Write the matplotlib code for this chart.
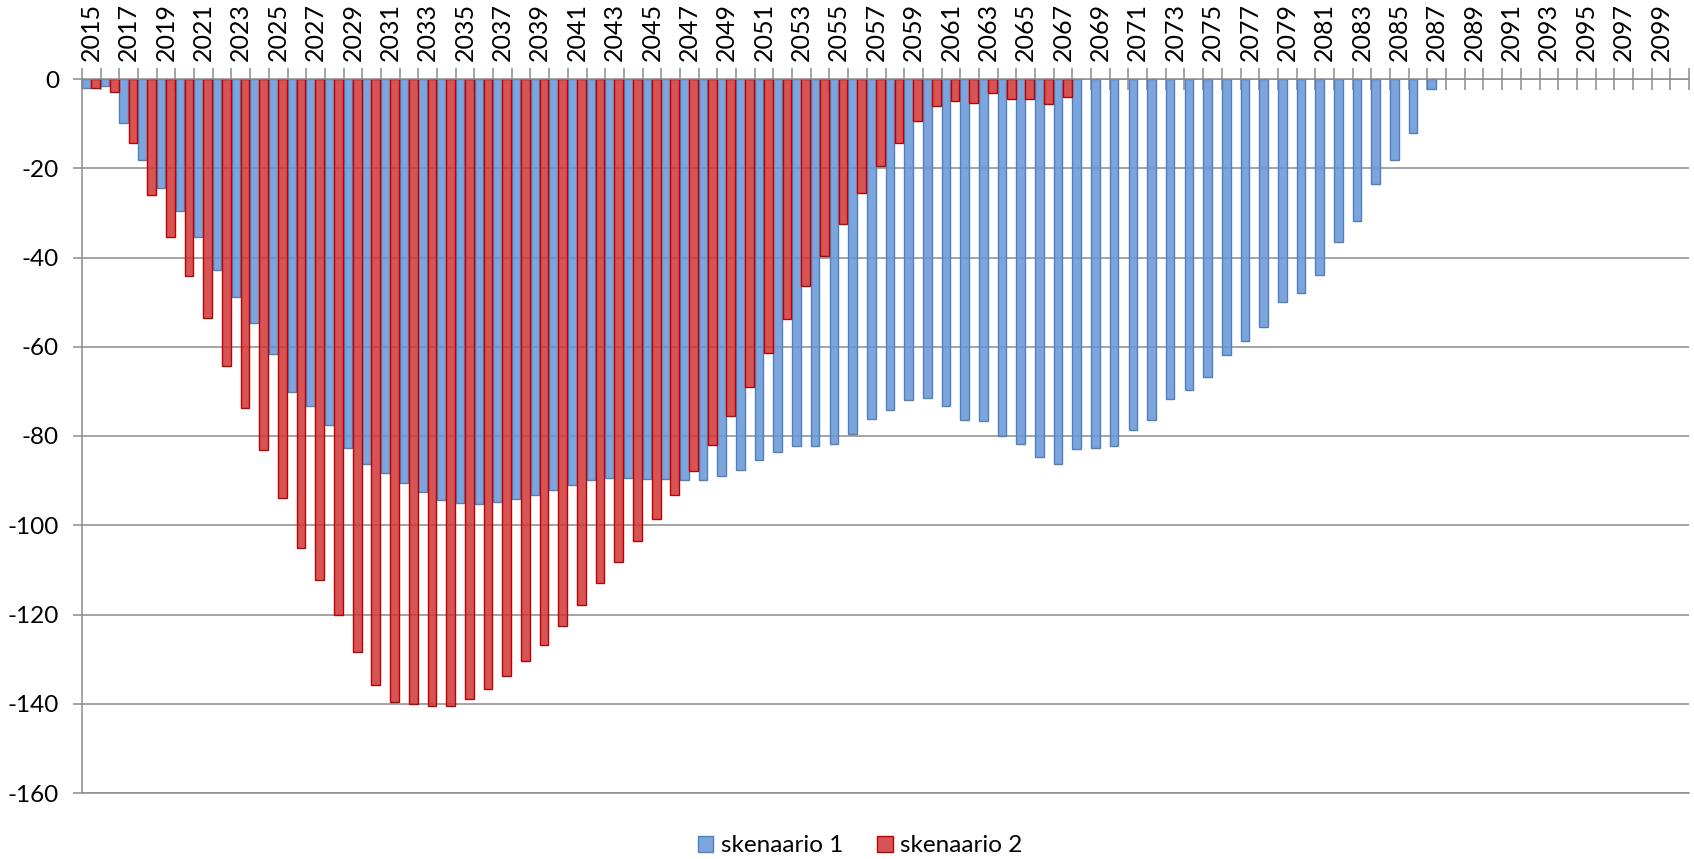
import numpy as np
import matplotlib

matplotlib.use("Agg")
import matplotlib.pyplot as plt
from matplotlib.patches import Patch

years = list(range(2015, 2101))

skenaario_1 = [
    -2.1, -1.5, -9.9, -18.2, -24.4, -29.5, -35.4, -42.8, -48.9, -54.7,
    -61.7, -70.1, -73.3, -77.6, -82.7, -86.3, -88.3, -90.5, -92.6, -94.4,
    -95.1, -95.3, -94.7, -94.2, -93.3, -92.2, -90.9, -89.8, -89.4, -89.5,
    -89.6, -89.6, -89.8, -89.9, -88.9, -87.7, -85.4, -83.5, -82.3, -82.2,
    -81.7, -79.5, -76.2, -74.1, -71.9, -71.4, -73.3, -76.5, -76.7, -80.0,
    -81.8, -84.7, -86.2, -83.0, -82.8, -82.2, -78.7, -76.5, -71.7, -69.8,
    -66.7, -61.9, -58.7, -55.5, -49.9, -47.9, -44.0, -36.5, -31.8, -23.6,
    -18.2, -12.0, -2.2,
] + [0.0] * 13

skenaario_2 = [
    -2.1, -3.0, -14.4, -26.0, -35.4, -44.2, -53.6, -64.3, -73.8, -83.2,
    -93.8, -105.0, -112.2, -120.2, -128.5, -135.7, -139.5, -140.1, -140.5, -140.4,
    -138.9, -136.8, -133.8, -130.4, -126.8, -122.6, -117.8, -112.9, -108.2, -103.5,
    -98.6, -93.3, -87.9, -82.1, -75.6, -69.1, -61.3, -53.8, -46.4, -39.6,
    -32.5, -25.6, -19.4, -14.4, -9.3, -6.0, -4.9, -5.4, -3.1, -4.5,
    -4.5, -5.5, -4.0,
] + [0.0] * 33

series_names = ["skenaario 1", "skenaario 2"]

BLUE_FACE = (0.40, 0.59, 0.85, 0.86)
BLUE_EDGE = "#4f81bd"
RED_FACE = (0.82, 0.22, 0.22, 0.86)
RED_EDGE = "#c00000"
GRID = "#8c8c8c"

plt.rcParams["font.family"] = ["Lato", "DejaVu Sans"]
plt.rcParams["axes.unicode_minus"] = False

W, H = 1694, 859
fig = plt.figure(figsize=(W / 100, H / 100), dpi=100)
ax = fig.add_axes([82 / W, 1 - 793 / H, (1689 - 82) / W, (793 - 79) / H])

x = np.arange(len(years))
s1 = np.array(skenaario_1)
s2 = np.array(skenaario_2)
m1 = s1 != 0
m2 = s2 != 0

ax.bar(x[m1] + 0.235, s1[m1], width=0.46, facecolor=BLUE_FACE,
       edgecolor=BLUE_EDGE, linewidth=1.0, zorder=2)
ax.bar(x[m2] + 0.725, s2[m2], width=0.47, facecolor=RED_FACE,
       edgecolor=RED_EDGE, linewidth=1.0, zorder=2)

ax.set_xlim(0, len(years))
ax.set_ylim(-160, 0)
ax.set_yticks(np.arange(-160, 1, 20))
ax.yaxis.grid(True, color=GRID, linewidth=1.1)
ax.set_axisbelow(True)
ax.tick_params(axis="y", direction="out", length=6.5, width=1.1,
               color=GRID, pad=10, labelsize=17.5)

# category boundaries as cross ticks, labels every other year at centres
ax.set_xticks(np.arange(len(years) + 1))
ax.set_xticklabels([])
ax.set_xticks(x[::2] + 0.5, minor=True)
ax.set_xticklabels([str(y) for y in years[::2]], minor=True, rotation=90)
ax.tick_params(axis="x", which="both", top=True, labeltop=True,
               bottom=False, labelbottom=False)
ax.tick_params(axis="x", which="major", direction="inout", length=16,
               width=1.1, color=GRID)
ax.tick_params(axis="x", which="minor", length=0, pad=13, labelsize=18)

for side in ["left", "top", "bottom"]:
    ax.spines[side].set_color(GRID)
    ax.spines[side].set_linewidth(1.1)
ax.spines["right"].set_visible(False)

handles = [
    Patch(facecolor=BLUE_FACE, edgecolor=BLUE_EDGE, linewidth=1.0),
    Patch(facecolor=RED_FACE, edgecolor=RED_EDGE, linewidth=1.0),
]
fig.legend(handles, series_names, loc="center",
           bbox_to_anchor=(860 / W, 1 - 846 / H), ncol=2, frameon=False,
           fontsize=17.5, handlelength=0.65, handleheight=0.65,
           handletextpad=0.3, columnspacing=1.4)

fig.savefig("out.png", dpi=100)
